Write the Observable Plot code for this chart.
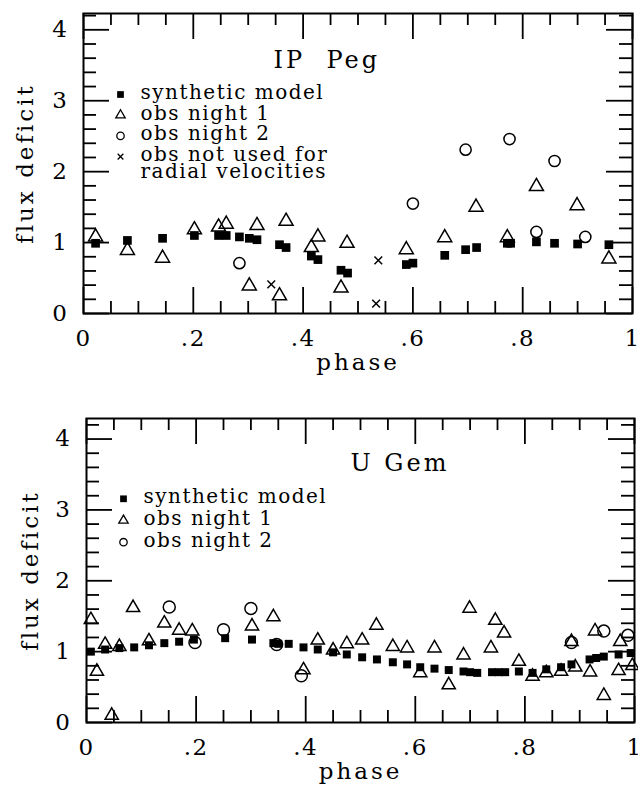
<!DOCTYPE html>
<html>
<head>
<meta charset="utf-8">
<script src="https://cdn.jsdelivr.net/npm/d3@7"></script>
<script src="https://cdn.jsdelivr.net/npm/@observablehq/plot@0.6"></script>
<style>
  html, body { margin: 0; padding: 0; background: #fff; }
  #chart { width: 638px; }
  #chart svg { display: block; }
  #chart svg text { letter-spacing: 1.5px; }
  #chart svg .axlab text { letter-spacing: 3px; }
  #chart svg .ttl text { letter-spacing: 3px; }
</style>
</head>
<body>
<div id="chart"></div>
<script>
// ---------- tick values and labels ----------
const xMajorTicks = [0, 0.2, 0.4, 0.6, 0.8, 1];
const xTickLabels = ["0", ".2", ".4", ".6", ".8", "1"];
const xMinorTicks = [0.05, 0.1, 0.15, 0.25, 0.3, 0.35, 0.45, 0.5, 0.55, 0.65, 0.7, 0.75, 0.85, 0.9, 0.95];
const yMajorTicks = [0, 1, 2, 3, 4];
const yTickLabels = ["0", "1", "2", "3", "4"];
const yMinorTicks = [0.2, 0.4, 0.6, 0.8, 1.2, 1.4, 1.6, 1.8, 2.2, 2.4, 2.6, 2.8, 3.2, 3.4, 3.6, 3.8, 4.2];
const xTitle = "phase";
const yTitle = "flux deficit";

// ---------- IP Peg ----------
const ipTitle = "IP\u00a0 Peg";
const ipModelPhase = [0.022, 0.08, 0.144, 0.202, 0.246, 0.26, 0.284, 0.302, 0.316, 0.357, 0.369, 0.415, 0.427, 0.469, 0.481, 0.588, 0.60, 0.658, 0.696, 0.716, 0.772, 0.778, 0.825, 0.858, 0.90, 0.957];
const ipModelFlux  = [0.99, 1.03, 1.06, 1.10, 1.10, 1.10, 1.08, 1.06, 1.04, 0.97, 0.93, 0.81, 0.76, 0.61, 0.57, 0.69, 0.71, 0.82, 0.90, 0.93, 0.99, 0.99, 1.01, 0.99, 0.98, 0.97];
const ipNight1Phase = [0.022, 0.08, 0.144, 0.202, 0.246, 0.26, 0.302, 0.316, 0.357, 0.369, 0.415, 0.427, 0.469, 0.48, 0.588, 0.658, 0.715, 0.772, 0.825, 0.899, 0.957];
const ipNight1Flux  = [1.08, 0.89, 0.78, 1.18, 1.22, 1.26, 0.39, 1.24, 0.25, 1.30, 0.93, 1.08, 0.36, 0.99, 0.90, 1.07, 1.50, 1.07, 1.79, 1.52, 0.77];
const ipNight2Phase = [0.284, 0.60, 0.696, 0.776, 0.825, 0.858, 0.914];
const ipNight2Flux  = [0.71, 1.55, 2.31, 2.46, 1.15, 2.15, 1.08];
const ipExcludedPhase = [0.342, 0.537, 0.533];
const ipExcludedFlux  = [0.41, 0.75, 0.14];
const ipLegendLabels = ["synthetic model", "obs night 1", "obs night 2", "obs not used for", "radial velocities"];

// ---------- U Gem ----------
const ugTitle = "U Gem";
const ugModelPhase = [0.008, 0.034, 0.06, 0.087, 0.114, 0.142, 0.169, 0.196, 0.253, 0.302, 0.341, 0.35, 0.369, 0.396, 0.422, 0.45, 0.475, 0.503, 0.53, 0.559, 0.585, 0.609, 0.635, 0.661, 0.688, 0.70, 0.713, 0.74, 0.752, 0.764, 0.789, 0.814, 0.839, 0.866, 0.885, 0.918, 0.93, 0.944, 0.971, 0.993];
const ugModelFlux  = [1.00, 1.03, 1.05, 1.06, 1.09, 1.12, 1.14, 1.17, 1.19, 1.17, 1.12, 1.11, 1.11, 1.06, 1.03, 0.99, 0.96, 0.92, 0.89, 0.85, 0.82, 0.78, 0.76, 0.74, 0.72, 0.71, 0.70, 0.71, 0.71, 0.71, 0.72, 0.70, 0.75, 0.78, 0.82, 0.89, 0.91, 0.93, 0.96, 0.98];
const ugNight1Phase = [0.008, 0.019, 0.034, 0.046, 0.06, 0.085, 0.114, 0.142, 0.169, 0.193, 0.302, 0.341, 0.396, 0.422, 0.45, 0.475, 0.503, 0.529, 0.559, 0.585, 0.609, 0.635, 0.661, 0.688, 0.699, 0.738, 0.746, 0.762, 0.789, 0.814, 0.839, 0.866, 0.885, 0.892, 0.919, 0.928, 0.944, 0.971, 0.974, 0.996];
const ugNight1Flux  = [1.45, 0.72, 1.10, 0.10, 1.07, 1.62, 1.15, 1.40, 1.30, 1.29, 1.36, 1.49, 0.74, 1.16, 1.02, 1.11, 1.16, 1.37, 1.07, 1.05, 0.70, 1.05, 0.53, 0.95, 1.61, 1.05, 1.44, 1.26, 0.86, 0.65, 0.70, 0.72, 1.14, 0.78, 0.71, 1.29, 0.38, 0.73, 1.14, 0.80];
const ugNight2Phase = [0.151, 0.198, 0.25, 0.30, 0.347, 0.392, 0.885, 0.944, 0.988];
const ugNight2Flux  = [1.63, 1.13, 1.31, 1.61, 1.10, 0.66, 1.13, 1.29, 1.23];
const ugLegendLabels = ["synthetic model", "obs night 1", "obs night 2"];

// ---------- helpers ----------
const rows = (phase, flux) => phase.map((p, i) => ({phase: p, flux: flux[i]}));

// inward tick marks on all four sides (pixel lengths converted to data units)
function tickMarks(fw, fh, yMax) {
  const ux = 1 / fw, uy = yMax / fh;
  const xBig = 26 * uy, xSmall = 12 * uy, yBig = 26 * ux, ySmall = 13 * ux;
  const common = {stroke: "#000", strokeWidth: 1.8, strokeOpacity: 1};
  return [
    Plot.ruleX(xMajorTicks, {x: d => d, y1: 0, y2: xBig, ...common}),
    Plot.ruleX(xMinorTicks, {x: d => d, y1: 0, y2: xSmall, ...common}),
    Plot.ruleX(xMajorTicks, {x: d => d, y1: yMax, y2: yMax - xBig, ...common}),
    Plot.ruleX(xMinorTicks, {x: d => d, y1: yMax, y2: yMax - xSmall, ...common}),
    Plot.ruleY(yMajorTicks, {y: d => d, x1: 0, x2: yBig, ...common}),
    Plot.ruleY(yMinorTicks, {y: d => d, x1: 0, x2: ySmall, ...common}),
    Plot.ruleY(yMajorTicks, {y: d => d, x1: 1, x2: 1 - yBig, ...common}),
    Plot.ruleY(yMinorTicks, {y: d => d, x1: 1, x2: 1 - ySmall, ...common})
  ];
}

function legendMarks(labels, kinds, g) {
  const m = [];
  const shift = -2;
  kinds.forEach((k, i) => {
    const dy = g.legTop + i * g.legStep;
    m.push(Plot.dot([0], {frameAnchor: "top-left", dx: g.legMarkX, dy, symbol: k.symbol, r: k.r,
      fill: k.fill, stroke: k.stroke, strokeWidth: 1.3}));
    m.push(Plot.text([labels[i]], {frameAnchor: "top-left", dx: g.legTextX, dy: dy + shift, text: d => d,
      textAnchor: "start", lineAnchor: "middle", fontSize: 20}));
  });
  for (let j = kinds.length; j < labels.length; j++) {
    const dy = g.legTop + (kinds.length - 1) * g.legStep + (j - kinds.length + 1) * g.legSub;
    m.push(Plot.text([labels[j]], {frameAnchor: "top-left", dx: g.legTextX, dy: dy + shift, text: d => d,
      textAnchor: "start", lineAnchor: "middle", fontSize: 20}));
  }
  return m;
}

function panel(g) {
  const fw = 638 - g.ml - g.mr, fh = g.height - g.mt - g.mb;
  return Plot.plot({
    width: 638,
    height: g.height,
    marginTop: g.mt, marginBottom: g.mb, marginLeft: g.ml, marginRight: g.mr,
    style: {background: "white", color: "black", fontFamily: "'DejaVu Serif', serif", fontSize: "22px", overflow: "visible"},
    x: {domain: [0, 1], label: null, axis: null},
    y: {domain: [0, g.yMax], label: null, axis: null},
    marks: [
      Plot.frame({fill: "none", stroke: "black", strokeWidth: 2}),
      Plot.text(xMajorTicks, {x: d => d, text: (d, i) => xTickLabels[i], frameAnchor: "bottom", lineAnchor: "middle", dy: 25, fontSize: 23}),
      Plot.text(yMajorTicks, {y: d => d, text: (d, i) => yTickLabels[i], frameAnchor: "left", lineAnchor: "middle", dx: -15, textAnchor: "end", fontSize: 23}),
      Plot.text([xTitle], {text: d => d, frameAnchor: "bottom", lineAnchor: "middle", textAnchor: "middle", dy: 49, fontSize: 23, className: "axlab"}),
      Plot.text([yTitle], {text: d => d, frameAnchor: "left", lineAnchor: "middle", textAnchor: "middle", dx: g.yTitleDx, rotate: -90, fontSize: 23, className: "axlab"}),
      Plot.text([g.title], {text: d => d, frameAnchor: "top-left", lineAnchor: "middle", dx: g.titleDx, dy: g.titleDy, textAnchor: "start", fontSize: 24, className: "ttl"}),
      ...legendMarks(g.legendLabels, g.legendKinds, g),
      Plot.dot(g.model, {x: "phase", y: "flux", symbol: "square", r: g.rSq, fill: "black", stroke: "none"}),
      Plot.dot(g.night1, {x: "phase", y: "flux", symbol: "triangle", r: g.rTri, fill: "none", stroke: "black", strokeWidth: 1.5}),
      Plot.dot(g.night2, {x: "phase", y: "flux", symbol: "circle", r: g.rCirc, fill: "none", stroke: "black", strokeWidth: 1.5}),
      Plot.dot(g.excluded, {x: "phase", y: "flux", symbol: "times", r: 3.6, stroke: "black", strokeWidth: 1.5}),
      ...tickMarks(fw, fh, g.yMax)
    ]
  });
}

const kindsAll = [
  {symbol: "square", r: 3.8, fill: "black", stroke: "none"},
  {symbol: "triangle", r: 3.5, fill: "none", stroke: "black"},
  {symbol: "circle", r: 3.7, fill: "none", stroke: "black"},
  {symbol: "times", r: 2.7, fill: "none", stroke: "black"}
];

const topPanel = panel({
  height: 390, mt: 13, mb: 77, ml: 83, mr: 6, yMax: 4.23,
  yTitleDx: -58, title: ipTitle, titleDx: 190, titleDy: 47,
  legendLabels: ipLegendLabels, legendKinds: kindsAll,
  legTop: 81, legStep: 20.7, legSub: 17, legMarkX: 37, legTextX: 57,
  model: rows(ipModelPhase, ipModelFlux),
  night1: rows(ipNight1Phase, ipNight1Flux),
  night2: rows(ipNight2Phase, ipNight2Flux),
  excluded: rows(ipExcludedPhase, ipExcludedFlux),
  rSq: 4.9, rTri: 5.2, rCirc: 5.6
});

const bottomPanel = panel({
  height: 400, mt: 28, mb: 68, ml: 86, mr: 4, yMax: 4.29,
  yTitleDx: -56, title: ugTitle, titleDx: 264, titleDy: 45,
  legendLabels: ugLegendLabels, legendKinds: kindsAll.slice(0, 3),
  legTop: 80.3, legStep: 21.7, legSub: 17, legMarkX: 37, legTextX: 57,
  model: rows(ugModelPhase, ugModelFlux),
  night1: rows(ugNight1Phase, ugNight1Flux),
  night2: rows(ugNight2Phase, ugNight2Flux),
  excluded: [],
  rSq: 4.5, rTri: 4.9, rCirc: 6
});

document.getElementById("chart").append(topPanel, bottomPanel);
</script>
</body>
</html>
